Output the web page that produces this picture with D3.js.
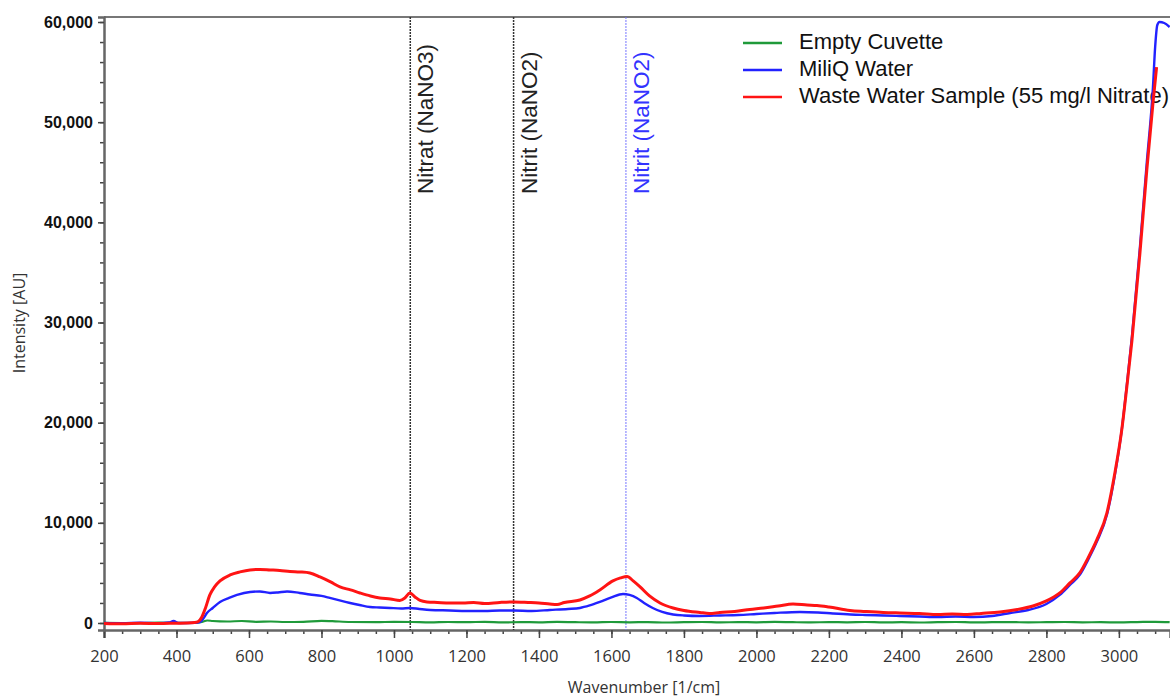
<!DOCTYPE html>
<html>
<head>
<meta charset="utf-8">
<script src="https://cdn.jsdelivr.net/npm/d3@7"></script>
<style>
  body { margin: 0; background: #fff; }
  svg { display: block; }
</style>
</head>
<body>
<div id="chart"></div>
<script>
// [wavenumber, intensity]
var emptyCuvette = [[200,20],[250,0],[300,-20],[350,30],[400,10],[450,0],[470,100],[485,250],[500,200],[540,150],[580,200],[620,120],[660,150],[700,100],[750,120],[800,220],[830,180],[880,100],[950,80],[1000,120],[1050,100],[1100,60],[1150,100],[1200,80],[1250,120],[1300,60],[1350,90],[1400,70],[1450,110],[1500,80],[1550,60],[1600,100],[1650,70],[1700,90],[1750,50],[1800,80],[1850,100],[1900,60],[1950,90],[2000,70],[2050,110],[2100,80],[2150,60],[2200,90],[2250,70],[2300,100],[2350,60],[2400,80],[2450,50],[2500,80],[2550,100],[2600,60],[2650,80],[2700,90],[2750,60],[2800,80],[2850,100],[2900,70],[2950,80],[3000,60],[3050,90],[3100,120],[3140,80]];

var miliQWater = [[200,0],[250,-30],[300,20],[350,-20],[380,50],[392,200],[405,0],[450,20],[465,100],[475,500],[484,1000],[500,1500],[520,2100],[545,2500],[567,2800],[603,3100],[630,3150],[658,3000],[680,3050],[705,3150],[740,3000],[768,2850],[800,2700],[823,2500],[850,2250],[879,2000],[905,1800],[934,1600],[960,1550],[989,1500],[1020,1450],[1044,1500],[1070,1400],[1100,1300],[1154,1250],[1200,1200],[1250,1200],[1292,1250],[1330,1250],[1380,1200],[1430,1300],[1480,1400],[1513,1500],[1540,1750],[1568,2100],[1600,2550],[1632,2900],[1650,2800],[1670,2500],[1690,2000],[1714,1500],[1740,1100],[1770,850],[1800,750],[1844,700],[1900,750],[1950,800],[2000,900],[2050,1000],[2120,1100],[2170,1050],[2211,950],[2260,850],[2300,800],[2350,750],[2396,700],[2450,650],[2500,600],[2550,650],[2600,600],[2650,700],[2700,1000],[2750,1300],[2800,1900],[2837,2800],[2865,3800],[2892,4800],[2915,6300],[2939,8100],[2967,10800],[2989,14800],[3008,19300],[3022,23800],[3036,28600],[3058,37500],[3077,46000],[3094,53500],[3100,57500],[3106,59700],[3112,60000],[3125,59900],[3140,59500]];

var wasteWater = [[200,-50],[250,-80],[300,-30],[350,-60],[400,-20],[430,0],[450,50],[460,150],[470,600],[480,1500],[492,2800],[505,3600],[520,4200],[548,4800],[575,5100],[603,5300],[630,5350],[658,5300],[685,5250],[713,5150],[740,5100],[768,5000],[796,4600],[825,4100],[851,3600],[880,3300],[906,3000],[935,2700],[961,2500],[990,2400],[1016,2250],[1030,2500],[1044,3000],[1058,2600],[1072,2250],[1091,2100],[1120,2050],[1154,2000],[1190,2000],[1220,2050],[1250,1950],[1292,2050],[1330,2100],[1370,2050],[1400,2000],[1430,1900],[1450,1850],[1470,2050],[1513,2300],[1540,2700],[1568,3300],[1604,4200],[1625,4500],[1643,4650],[1660,4200],[1679,3600],[1705,2700],[1734,2000],[1770,1500],[1800,1250],[1844,1050],[1870,950],[1899,1050],[1940,1150],[1982,1350],[2020,1500],[2060,1700],[2101,1900],[2140,1800],[2167,1750],[2200,1600],[2258,1250],[2300,1150],[2350,1050],[2396,1000],[2450,950],[2500,850],[2540,900],[2581,850],[2620,950],[2672,1100],[2720,1350],[2763,1700],[2800,2200],[2837,3000],[2865,4000],[2892,5000],[2915,6500],[2939,8300],[2967,11000],[2989,15000],[3008,19300],[3022,23600],[3036,28200],[3058,36900],[3077,45200],[3094,51900],[3104,55500]];

var seriesNames = ["Empty Cuvette", "MiliQ Water", "Waste Water Sample (55 mg/l Nitrate)"];
var seriesColors = ["#1f9a3a", "#2222ff", "#ff1414"];

var markerPositions = [1045, 1330, 1640];
var markerLabels = ["Nitrat (NaNO3)", "Nitrit (NaNO2)", "Nitrit (NaNO2)"];
var markerColors = ["#222", "#222", "#3333ff"];

var xTicks = [200, 400, 600, 800, 1000, 1200, 1400, 1600, 1800, 2000, 2200, 2400, 2600, 2800, 3000];
var yTicks = [0, 10000, 20000, 30000, 40000, 50000, 60000];

var W = 1170, H = 698;
var mLeft = 104, mTop = 17, mRight = 1170, mBottom = 630;

var svg = d3.select("#chart").append("svg")
  .attr("width", W)
  .attr("height", H);

var x = d3.scaleLinear().domain([200, 3141]).range([mLeft, mRight]);
var y = d3.scaleLinear().domain([-700, 60500]).range([mBottom, mTop]);

// frame
svg.append("line")
  .attr("x1", mLeft).attr("x2", mRight).attr("y1", mTop).attr("y2", mTop)
  .attr("stroke", "#777").attr("stroke-width", 2);

// minor ticks
svg.append("g")
  .attr("transform", "translate(0," + mBottom + ")")
  .call(d3.axisBottom(x).tickValues(d3.range(200, 3141, 50)).tickSize(4).tickFormat(""))
  .call(function (g) { g.select(".domain").remove(); })
  .selectAll("line").attr("stroke", "#444").attr("stroke-width", 1.5);

svg.append("g")
  .attr("transform", "translate(" + mLeft + ",0)")
  .call(d3.axisLeft(y).tickValues(d3.range(0, 60001, 2000)).tickSize(4).tickFormat(""))
  .call(function (g) { g.select(".domain").remove(); })
  .selectAll("line").attr("stroke", "#444").attr("stroke-width", 1.5);

// major x axis
var xg = svg.append("g")
  .attr("transform", "translate(0," + mBottom + ")")
  .call(d3.axisBottom(x).tickValues(xTicks).tickSize(8).tickPadding(12).tickFormat(d3.format("d")));
xg.select(".domain").attr("stroke", "#666").attr("stroke-width", 2.5);
xg.selectAll("line").attr("stroke", "#444").attr("stroke-width", 1.5);
xg.selectAll("text")
  .attr("fill", "#333")
  .style("font-family", "'Open Sans', sans-serif")
  .style("font-size", "16.5px");

// major y axis
var yg = svg.append("g")
  .attr("transform", "translate(" + mLeft + ",0)")
  .call(d3.axisLeft(y).tickValues(yTicks).tickSize(6).tickPadding(5).tickFormat(d3.format(",")));
yg.select(".domain").attr("stroke", "#666").attr("stroke-width", 2.5);
yg.selectAll("line").attr("stroke", "#444").attr("stroke-width", 1.5);
yg.selectAll("text")
  .attr("fill", "#111")
  .style("font-family", "'Liberation Sans', Arial, sans-serif")
  .style("font-weight", "bold")
  .style("font-size", "16px");

// axis titles
svg.append("text")
  .attr("x", 644).attr("y", 693)
  .attr("text-anchor", "middle")
  .attr("fill", "#333")
  .style("font-family", "'Open Sans', sans-serif")
  .style("font-size", "16px")
  .text("Wavenumber [1/cm]");

svg.append("text")
  .attr("transform", "translate(25,323) rotate(-90)")
  .attr("text-anchor", "middle")
  .attr("fill", "#333")
  .style("font-family", "'Open Sans', sans-serif")
  .style("font-size", "16px")
  .text("Intensity [AU]");

// marker lines
markerPositions.forEach(function (m, i) {
  svg.append("line")
    .attr("x1", x(m)).attr("x2", x(m))
    .attr("y1", mTop).attr("y2", mBottom)
    .attr("stroke", i == 2 ? "#7777ff" : "#333")
    .attr("stroke-width", i == 2 ? 1 : 1.5)
    .attr("stroke-dasharray", "2,1");
  svg.append("text")
    .attr("transform", "translate(" + (x(m) + 17) + ",194) rotate(-90)")
    .attr("dominant-baseline", "middle")
    .attr("fill", markerColors[i])
    .style("font-family", "'Liberation Sans', Arial, sans-serif")
    .style("font-size", "22.5px")
    .text(markerLabels[i]);
});

// spectra
var line = d3.line()
  .x(function (d) { return x(d[0]); })
  .y(function (d) { return y(d[1]); })
  .curve(d3.curveMonotoneX);

var allSeries = [emptyCuvette, miliQWater, wasteWater];
var widths = [2.2, 2.4, 3];

// legend (under the spectra: the rising curves cross its last word)
var legend = svg.append("g");
seriesNames.forEach(function (n, i) {
  var ly = 43 + i * 27;
  legend.append("line")
    .attr("x1", 743).attr("x2", 782).attr("y1", ly).attr("y2", ly)
    .attr("stroke", seriesColors[i]).attr("stroke-width", 2.5);
  legend.append("text")
    .attr("x", 799).attr("y", ly)
    .attr("dominant-baseline", "middle")
    .attr("fill", "#111")
    .style("font-family", "'Liberation Sans', Arial, sans-serif")
    .style("font-size", "22px")
    .text(n);
});

allSeries.forEach(function (s, i) {
  svg.append("path")
    .datum(s)
    .attr("fill", "none")
    .attr("stroke", seriesColors[i])
    .attr("stroke-width", widths[i])
    .attr("stroke-linejoin", "round")
    .attr("d", line);
});
</script>
</body>
</html>
